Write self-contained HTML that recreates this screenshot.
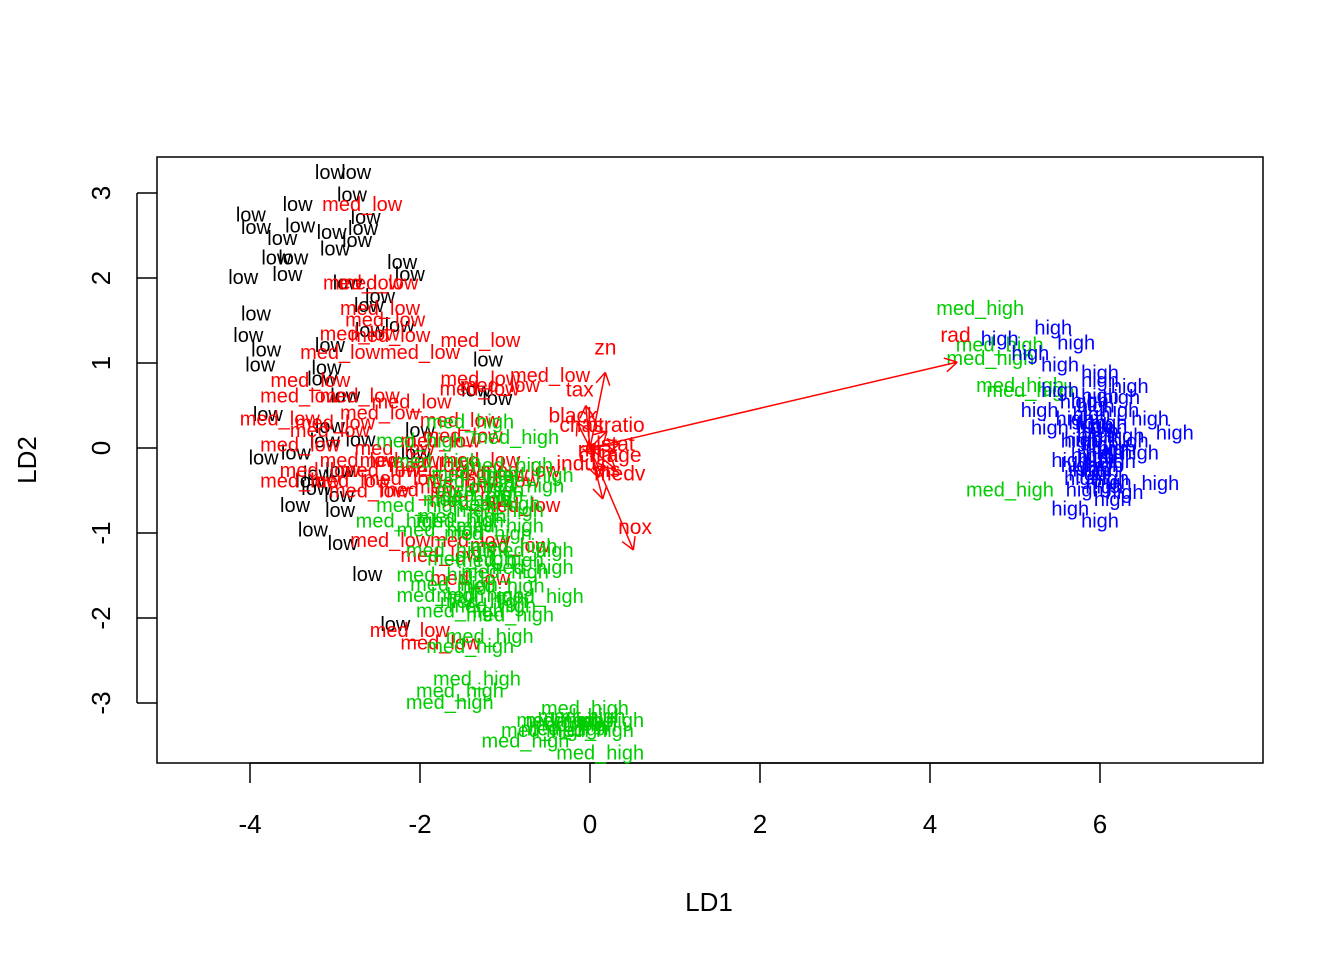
<!DOCTYPE html>
<html><head><meta charset="utf-8"><style>
html,body{margin:0;padding:0;background:#fff;}
svg{display:block;font-family:"Liberation Sans",Arial,sans-serif;}
</style></head><body>
<svg id="chart" width="1344" height="960" xmlns="http://www.w3.org/2000/svg">
<rect x="157" y="157" width="1106" height="606" fill="none" stroke="#000" stroke-width="1.5"/>
<g id="axes"></g>
<g id="points"></g>
<g id="arrows"></g>
<text x="709" y="911" font-size="26" text-anchor="middle">LD1</text>
<text x="36" y="460" font-size="26" text-anchor="middle" transform="rotate(-90 36 460)">LD2</text>
</svg>
<script>
const xTicks=[-4,-2,0,2,4,6];
const yTicks=[-3,-2,-1,0,1,2,3];
const lowX=[-3.06,-2.75,-2.8,-3.44,-3.99,-2.64,-3.93,-3.41,-3.04,-2.67,-3.62,-2.74,-3.0,-3.69,-3.49,-2.21,-4.08,-3.56,-2.12,-2.85,-2.47,-3.93,-2.6,-4.02,-3.81,-3.88,-3.06,-1.2,-3.15,-1.09,-1.34,-3.79,-3.06,-3.84,-3.46,-2.94,-3.22,-3.47,-2.94,-3.26,-2.91,-2.62,-2.29,-2.05,-3.12,-3.29,-2.88,-2.0,-2.59,-2.24,-3.1,-2.95,-2.7,-3.2];
const lowY=[3.25,3.25,2.98,2.87,2.75,2.72,2.6,2.62,2.54,2.59,2.47,2.45,2.35,2.24,2.24,2.19,2.01,2.05,2.05,1.95,1.79,1.58,1.68,1.33,1.16,0.98,1.21,1.04,0.82,0.59,0.69,0.4,0.26,-0.11,-0.05,-0.26,-0.47,-0.67,-0.73,-0.96,-1.12,-1.48,-2.07,-0.05,0.09,-0.38,0.62,0.21,1.39,1.45,0.95,-0.55,0.1,-0.3];
const medLowX=[-2.68,-2.67,-2.49,-2.47,-2.41,-2.71,-2.35,-1.29,-2.94,-2.0,-3.29,-3.41,-2.71,-1.29,-0.47,-1.06,-3.65,-3.06,-2.47,-3.41,-3.18,-2.82,-1.76,-1.29,-1.76,-1.06,-1.41,-0.82,-2.35,-1.41,-0.94,-1.76,-1.41,-2.12,-1.76,-2.24,-2.0,-0.82,-2.47,-1.53,-3.41,-2.71,-2.2,-1.9,-1.6,-2.3,-1.2,-3.0,-2.6,-1.5,-2.1,-1.3];
const medLowY=[2.87,1.95,1.95,1.65,1.51,1.35,1.33,1.27,1.13,1.13,0.8,0.62,0.62,0.82,0.86,0.74,0.35,0.21,0.42,0.04,-0.26,-0.38,0.09,-0.14,-0.26,-0.38,-0.61,-0.67,-1.08,-1.08,-1.14,-1.26,-1.53,-2.14,-2.29,-0.14,-0.49,-0.26,-0.26,0.33,-0.38,-0.14,-0.35,-0.2,-0.45,0.0,-0.3,0.3,-0.5,0.15,0.55,0.7];
const medHighX=[4.59,4.82,4.71,5.06,4.94,5.18,-1.41,-0.88,-0.71,-1.29,-2.0,-1.06,-0.71,-1.65,-0.71,-1.76,-1.29,-0.59,-1.53,-1.18,-1.41,-1.33,-1.53,-1.65,-0.06,-0.24,0.0,-0.76,0.12,-0.35,-2.0,-1.41,-1.06,-2.24,-1.53,-0.82,-1.76,-1.06,-1.76,-0.94,0.12,-0.53,-1.3,-1.1,-1.5,-1.2,-0.9,-1.4,-1.0,-1.6,-1.25,-1.35,-0.95,-1.15,-1.45,-1.05,-0.2,-0.1,-0.3,-1.8];
const medHighY=[1.65,1.22,1.06,0.74,-0.49,0.68,0.31,0.13,-0.32,-0.49,-0.67,-0.91,-1.2,-1.2,-1.4,-1.49,-1.73,-1.74,-1.91,-2.21,-2.33,-2.71,-2.85,-2.99,-3.06,-3.2,-3.32,-3.44,-3.58,-3.2,0.09,-0.38,-0.73,-0.85,-0.85,-0.44,-0.96,-1.32,-1.73,-1.96,-3.2,-3.32,-0.55,-0.65,-0.8,-1.0,-1.15,-1.3,-1.45,-1.6,-1.8,-0.3,-0.2,-1.85,-0.6,-1.62,-3.25,-3.15,-3.3,-0.15];
const highX=[5.45,5.72,4.82,5.18,5.53,6.0,6.35,5.29,6.59,6.88,5.41,5.76,6.12,6.47,5.65,6.0,6.71,5.82,6.29,5.65,6.0,5.88,6.24,5.94,6.35,5.76,6.12,5.53,6.0,5.88,5.9,6.1,6.0,5.8,6.2,5.95,6.05,5.85,6.15,5.7,6.3,5.95,6.05,6.0,5.9,6.1,5.8,6.2,6.0,5.75,6.25,6.05,5.95,5.85,6.15];
const highY=[1.42,1.24,1.29,1.12,0.98,0.89,0.73,0.45,0.35,0.18,0.24,0.09,-0.02,-0.05,-0.14,-0.26,-0.41,-0.49,-0.52,-0.71,-0.85,0.56,0.45,0.27,0.09,-0.2,-0.35,0.68,0.62,-0.08,0.4,0.3,0.2,0.1,0.0,-0.1,-0.2,-0.3,-0.4,0.35,0.15,0.5,-0.05,0.05,-0.25,0.25,-0.35,-0.15,0.8,0.55,0.6,-0.45,0.15,0.3,-0.6];
const arrowNames=["rad","zn","nox","tax","black","ptratio","lstat","age","indus","dis","rm","chas","crim","medv"];
const arrowX=[4.32,0.18,0.51,-0.05,-0.15,0.2,0.35,0.3,0.1,-0.05,0.15,0.05,0.05,0.3];
const arrowY=[1.01,0.89,-1.2,0.5,0.3,0.2,0.05,-0.05,-0.35,-0.05,-0.6,0.05,-0.1,-0.25];
const labelX=[4.3,0.18,0.53,-0.12,-0.2,0.3,0.3,0.4,-0.1,0.2,0.0,-0.1,0.1,0.35];
const labelY=[1.33,1.18,-0.93,0.69,0.38,0.27,0.05,-0.08,-0.18,-0.26,-0.02,0.27,-0.08,-0.3];

const sx=v=>590+85*v, sy=v=>448-85*v;
const NS="http://www.w3.org/2000/svg";
function mk(tag,attrs,parent){const e=document.createElementNS(NS,tag);for(const k in attrs)e.setAttribute(k,attrs[k]);parent.appendChild(e);return e;}
const axes=document.getElementById('axes');
mk('line',{x1:sx(-4),x2:sx(6),y1:763,y2:763,stroke:'#000','stroke-width':1.5},axes);
xTicks.forEach(t=>{
 const l=mk('line',{x1:sx(t),x2:sx(t),y1:763,y2:783,stroke:'#000','stroke-width':1.5},axes);
 
 
 const tx=mk('text',{x:sx(t),y:833,'font-size':26,'text-anchor':'middle'},axes);tx.textContent=t;
 
 
});
mk('line',{x1:137,x2:137,y1:sy(-3),y2:sy(3),stroke:'#000','stroke-width':1.5},axes);
yTicks.forEach(t=>{
 const l=mk('line',{x1:137,x2:157,y1:sy(t),y2:sy(t),stroke:'#000','stroke-width':1.5},axes);
 
 
 const y=sy(t);
 const tx=mk('text',{x:110,y:y,'font-size':26,'text-anchor':'middle',transform:`rotate(-90 110 ${y})`},axes);tx.textContent=t;
 
 
});
const pts=document.getElementById('points');
function drawClass(xs,ys,label,color,name){
 xs.forEach((x,i)=>{
  const t=mk('text',{x:sx(x),y:sy(ys[i])+7,'font-size':20,'text-anchor':'middle',fill:color},pts);
  t.textContent=label;
  
  
 });
}
drawClass(lowX,lowY,'low','#000','point-low');
drawClass(medLowX,medLowY,'med_low','#ff0000','point-med-low');
drawClass(medHighX,medHighY,'med_high','#00cd00','point-med-high');
drawClass(highX,highY,'high','#0000ff','point-high');
const ar=document.getElementById('arrows');
arrowNames.forEach((n,i)=>{
 const x0=sx(0),y0=sy(0),x1=sx(arrowX[i]),y1=sy(arrowY[i]);
 const g=mk('g',{stroke:'#ff0000','stroke-width':1.5,fill:'none'},ar);
 
 
 mk('line',{x1:x0,y1:y0,x2:x1,y2:y1},g);
 const a=Math.atan2(y1-y0,x1-x0),L=14;
 [0.5236,-0.5236].forEach(d=>{mk('line',{x1:x1,y1:y1,x2:x1-L*Math.cos(a+d),y2:y1-L*Math.sin(a+d)},g);});
 const t=mk('text',{x:sx(labelX[i]),y:sy(labelY[i])+7,'font-size':21,'text-anchor':'middle',fill:'#ff0000'},ar);
 t.textContent=n;
 
 
});
</script>
</body></html>
